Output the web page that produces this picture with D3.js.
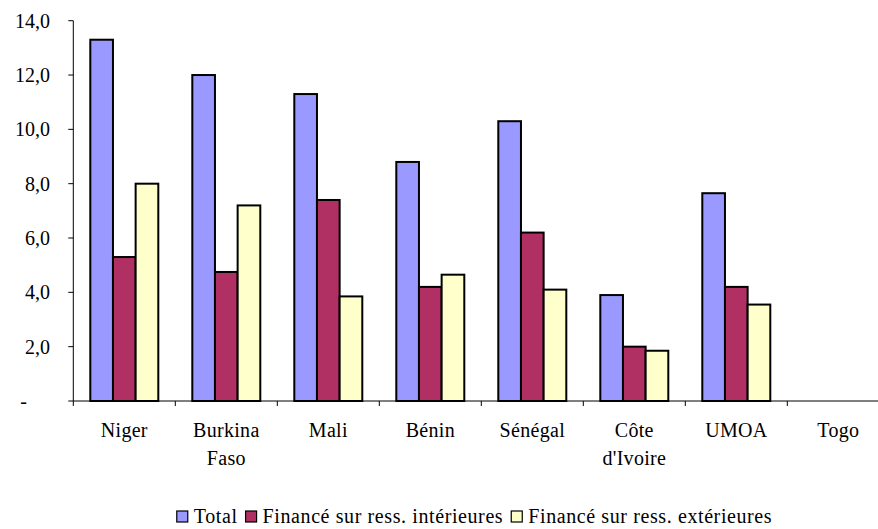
<!DOCTYPE html>
<html>
<head>
<meta charset="utf-8">
<script src="https://cdn.jsdelivr.net/npm/d3@7"></script>
</head>
<body style="margin:0">
<div id="chart"></div>
<script>
var svgWidth = 878;
var svgHeight = 529;

// data
var categories = ["Niger", "Burkina Faso", "Mali", "Bénin", "Sénégal", "Côte d'Ivoire", "UMOA", "Togo"];
var seriesNames = ["Total", "Financé sur ress. intérieures", "Financé sur ress. extérieures"];
var total = [13.3, 12.0, 11.3, 8.8, 10.3, 3.9, 7.65, null];
var interieures = [5.3, 4.75, 7.4, 4.2, 6.2, 2.0, 4.2, null];
var exterieures = [8.0, 7.2, 3.85, 4.65, 4.1, 1.85, 3.55, null];
var yTicks = [0, 2, 4, 6, 8, 10, 12, 14];
var colors = ["#9999ff", "#b03064", "#ffffcc"];

var seriesValues = [total, interieures, exterieures];
var serif = "'Liberation Serif'";

var svg = d3.select("#chart").append("svg")
  .attr("width", svgWidth)
  .attr("height", svgHeight);

var x0 = d3.scaleBand()
  .domain(categories)
  .range([73.3, 889.3])
  .padding(0);

var x1 = d3.scaleBand()
  .domain(seriesNames)
  .range([0, x0.bandwidth()])
  .paddingInner(0)
  .paddingOuter(0.75);

var y = d3.scaleLinear()
  .domain([0, 14])
  .range([401, 20.7]);

// Bars
var groups = svg.selectAll("g.cat")
  .data(categories)
  .enter()
  .append("g")
  .attr("class", "cat")
  .attr("transform", d => `translate(${x0(d)},0)`);

groups.selectAll("rect")
  .data((c, i) => seriesNames.map((s, j) => ({ s: s, v: seriesValues[j][i], j: j })))
  .enter()
  .filter(d => d.v != null)
  .append("rect")
  .attr("x", d => x1(d.s))
  .attr("y", d => y(d.v))
  .attr("width", x1.bandwidth())
  .attr("height", d => y(0) - y(d.v))
  .attr("fill", d => colors[d.j])
  .attr("stroke", "#000")
  .attr("stroke-width", 2);

// Y axis
var yAxis = svg.append("g");
yAxis.append("line")
  .attr("x1", x0.range()[0]).attr("x2", x0.range()[0])
  .attr("y1", y(14)).attr("y2", y(0))
  .attr("stroke", "#000");
yAxis.selectAll("line.ytick")
  .data(yTicks)
  .enter()
  .append("line")
  .attr("class", "ytick")
  .attr("x1", x0.range()[0] - 5).attr("x2", x0.range()[0])
  .attr("y1", d => y(d)).attr("y2", d => y(d))
  .attr("stroke", "#000");
yAxis.selectAll("text")
  .data(yTicks)
  .enter()
  .append("text")
  .attr("x", d => d === 0 ? 27 : 50)
  .attr("y", d => y(d) + 7)
  .attr("text-anchor", "end")
  .style("font-family", serif)
  .style("font-size", "20px")
  .text(d => d === 0 ? "-" : d3.format(".1f")(d).replace(".", ","));

// X axis (ticks at category boundaries)
svg.append("line")
  .attr("x1", x0.range()[0]).attr("x2", svgWidth)
  .attr("y1", y(0)).attr("y2", y(0))
  .attr("stroke", "#000");

svg.selectAll("line.xtick")
  .data(categories)
  .enter()
  .append("line")
  .attr("class", "xtick")
  .attr("x1", d => x0(d)).attr("x2", d => x0(d))
  .attr("y1", y(0)).attr("y2", y(0) + 5)
  .attr("stroke", "#000");

var labels = svg.selectAll("text.xlab")
  .data(categories)
  .enter()
  .append("text")
  .attr("class", "xlab")
  .attr("text-anchor", "middle")
  .style("font-family", serif)
  .style("font-size", "20px")
  .style("letter-spacing", "0.3px")
  .attr("transform", d => `translate(${x0(d) + x0.bandwidth() / 2},437)`);

labels.selectAll("tspan")
  .data(d => d.split(" "))
  .enter()
  .append("tspan")
  .attr("x", 0)
  .attr("y", (d, i) => i * 28)
  .text(d => d);

// Legend
var legend = svg.append("g");
var lx = 0;
seriesNames.forEach(function(name, i) {
  var item = legend.append("g").attr("transform", `translate(${lx},0)`);
  item.append("rect")
    .attr("x", 0).attr("y", -12)
    .attr("width", 11).attr("height", 11)
    .attr("fill", colors[i])
    .attr("stroke", "#000")
    .attr("stroke-width", 1.2);
  var t = item.append("text")
    .attr("x", 17)
    .style("font-family", serif)
    .style("font-size", "20px")
    .style("letter-spacing", "0.6px")
    .text(name);
  lx += 17 + t.node().getComputedTextLength() + 8;
});
legend.attr("transform", `translate(${(178 + 771) / 2 - (lx - 8) / 2},523)`);
</script>
</body>
</html>
